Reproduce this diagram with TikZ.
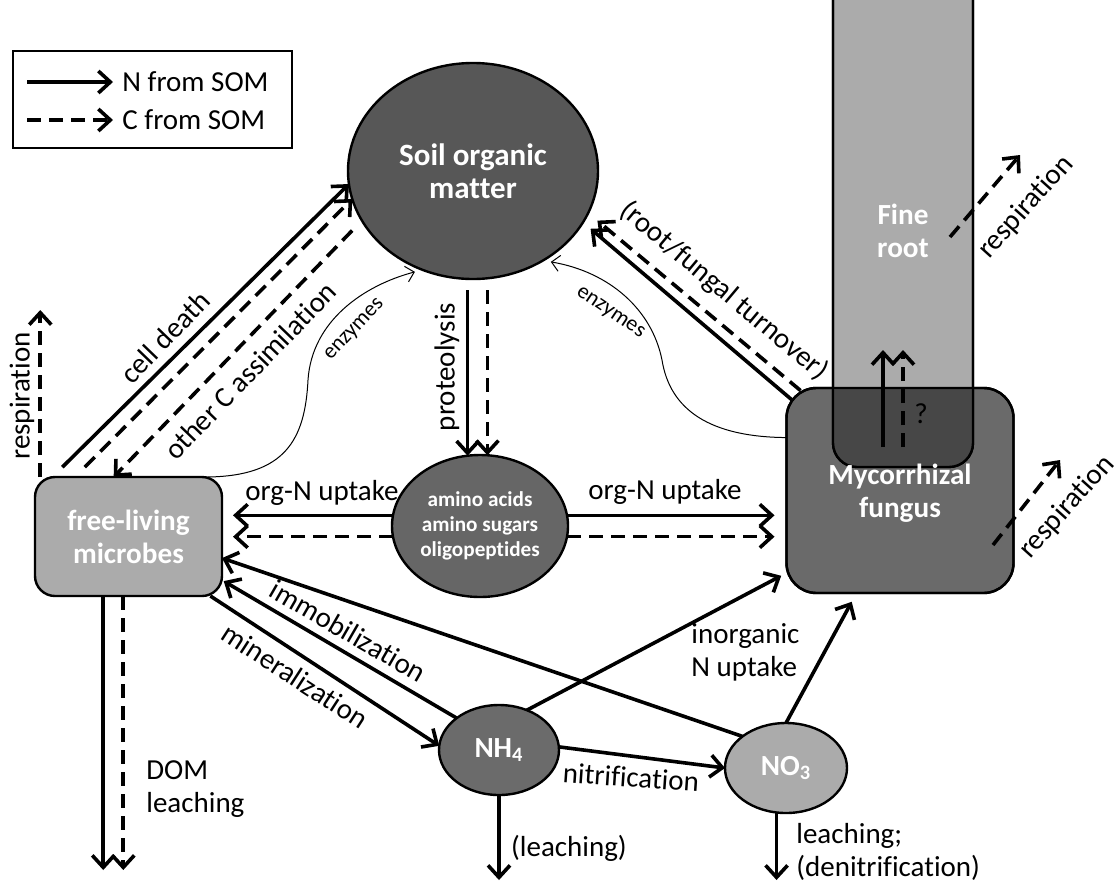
\documentclass[tikz,border=0pt]{standalone}
\usepackage{fontspec}
\setmainfont{Carlito}[Ligatures=NoCommon]
\usetikzlibrary{arrows.meta,shapes.geometric}
\definecolor{somgray}{HTML}{575757}
\definecolor{poolgray}{HTML}{666666}
\definecolor{ammgray}{HTML}{6B6B6B}
\definecolor{lightgray}{HTML}{ABABAB}
\definecolor{fungusgray}{HTML}{6A6A6A}
\definecolor{overlapgray}{HTML}{474747}
\begin{document}
\begin{tikzpicture}
[x=0.5pt,y=-0.5pt,
  pooldecorate/.style={shape=ellipse,draw,line width=1.2pt,inner sep=0pt,outer sep=0pt,
    text=white,align=center,font=\bfseries\fontsize{14.6}{16.5}\selectfont},%
  boxdecorate/.style={shape=rectangle,draw,line width=1.2pt,inner sep=0pt,outer sep=0pt,
    text=white,align=center,font=\bfseries\fontsize{14.6}{16.5}\selectfont},%
  nflow/.style={line width=1.8pt,-{Straight Barb[length=6pt,width=11pt]}},%
  cflow/.style={nflow,dash pattern=on 7pt off 4pt},%
  enzflow/.style={line width=0.5pt,-{Straight Barb[length=4pt,width=8pt]}},%
  flowlabel/.style={font=\fontsize{14.5}{16.5}\selectfont,inner sep=0pt,align=left},%
  smalllabel/.style={font=\fontsize{11}{13}\selectfont,inner sep=0pt}]
\useasboundingbox (0,0) rectangle (1118,884);
%% legend
\node[draw,line width=1pt,minimum width=139.5pt,minimum height=48.5pt,inner sep=0pt] (legend) at (152.5,99.5) {};
\coordinate (legNa) at (27,82); \coordinate (legNb) at (113,82);
\coordinate (legCa) at (27,120); \coordinate (legCb) at (113,120);
\draw[nflow] (legNa) -- (legNb);
\draw[cflow] (legCa) -- (legCb);
\node[flowlabel,anchor=west] (legNtext) at (122,82) {N from SOM};
\node[flowlabel,anchor=west] (legCtext) at (122,120) {C from SOM};
%% pools
\node[pooldecorate,fill=somgray,minimum width=125pt,minimum height=108pt,
  font=\bfseries\fontsize{15.5}{16.5}\selectfont] (som) at (473,171) {Soil organic\\matter};
\node[pooldecorate,fill=poolgray,minimum width=88pt,minimum height=71pt,
  font=\bfseries\fontsize{10.6}{12.5}\selectfont] (amino) at (480,526) {amino acids\\amino sugars\\oligopeptides};
\node[pooldecorate,fill=ammgray,minimum width=60pt,minimum height=45pt] (nhfour) at (499,750) {NH\textsubscript{4}};
\node[pooldecorate,fill=lightgray,minimum width=61pt,minimum height=45pt] (nothree) at (786,768) {NO\textsubscript{3}};
\node[boxdecorate,fill=lightgray,rounded corners=10pt,minimum width=93.5pt,minimum height=59.5pt] (microbes) at (128.5,536.5) {free-living\\microbes};
\node[boxdecorate,fill=fungusgray,rounded corners=15pt,minimum width=113.5pt,minimum height=102.5pt] (fungus) at (900,490.5) {};
\node[boxdecorate,fill=lightgray,rounded corners=12pt,minimum width=70pt,minimum height=263.5pt] (root) at (903,203.5) {};
%% root inside the fungus
\begin{scope}
  \clip[rounded corners=15pt] (fungus.north west) rectangle (fungus.south east);
  \fill[overlapgray,rounded corners=12pt] (root.north west) rectangle (root.south east);
\end{scope}
\draw[line width=1.2pt,rounded corners=12pt] (root.north west) rectangle (root.south east);
\draw[line width=1.2pt,rounded corners=15pt] (fungus.north west) rectangle (fungus.south east);
\node[boxdecorate,draw=none] (roottext) at (903,231) {Fine\\root};
\node[boxdecorate,draw=none] (fungustext) at (900,493) {Mycorrhizal\\fungus};
%% SOM and microbes
\draw[nflow,shorten <=7pt] (microbes.142) -- (som.186);
\draw[cflow,shorten <=7pt] (microbes.132) -- (som.193);
\draw[cflow,shorten <=7pt] (som.204) -- (microbes.104);
\draw[enzflow,shorten >=4pt] (microbes.37) .. controls (285,476) and (305,440) .. (308,380)
  .. controls (312,320) and (365,285) .. (som.243);
%% proteolysis
\draw[nflow,shorten <=5.5pt] (som.south -| amino.100) -- (amino.100);
\draw[cflow,shorten <=5.5pt] (som.south -| amino.84) -- (amino.84);
%% org-N uptake
\draw[nflow,shorten >=5.5pt] (amino.173) -- (amino.173 -| microbes.east);
\draw[cflow,shorten >=5.5pt] (amino.187) -- (amino.187 -| microbes.east);
\draw[nflow,shorten >=6pt] (amino.7) -- (amino.7 -| fungus.west);
\draw[cflow,shorten >=6pt] (amino.353) -- (amino.353 -| fungus.west);
%% fungus and SOM
\draw[nflow,shorten <=-4pt,shorten >=5pt] (fungus.140) -- (som.335);
\draw[cflow,shorten <=-2pt,shorten >=6pt] (fungus.135) -- (som.340);
\draw[enzflow,shorten >=4pt] (fungus.155) .. controls (710,437) and (670,410) .. (662,360)
  .. controls (652,310) and (610,272) .. (som.308);
%% fungus to root
\coordinate (upNa) at (883,447); \coordinate (upNb) at (883,350);
\coordinate (upCa) at (903,447); \coordinate (upCb) at (903,350);
\draw[nflow] (upNa) -- (upNb);
\draw[cflow] (upCa) -- (upCb);
%% inorganic N
\draw[nflow,shorten >=1pt] (nhfour.143) -- (microbes.335);
\draw[nflow] (nothree.144) -- (microbes.347);
\draw[nflow] (microbes.324) -- (nhfour.176);
\draw[nflow,shorten >=3pt] (nhfour.55) -- (fungus.216);
\draw[nflow,shorten >=5pt] (nothree.north) -- (fungus.247);
\draw[nflow] (nhfour.3) -- (nothree.180);
%% losses
\coordinate (drain) at (0,880);
\coordinate (domdrain) at (0,870); \coordinate (micresp) at (0,310);
\coordinate (rootrespA) at (950,237); \coordinate (rootrespB) at (1020,155);
\coordinate (fungrespA) at (993,545); \coordinate (fungrespB) at (1060,460);
\draw[nflow] (nhfour.south) -- (nhfour.south |- drain);
\draw[nflow] (nothree.258) -- (nothree.258 |- drain);
\draw[nflow] (microbes.247) -- (microbes.247 |- domdrain);
\draw[cflow] (microbes.265) -- (microbes.265 |- domdrain);
\draw[cflow] (microbes.146) -- (microbes.146 |- micresp);
\draw[cflow] (rootrespA) -- (rootrespB);
\draw[cflow] (fungrespA) -- (fungrespB);
%% labels
\node[flowlabel,rotate=46] (lcelldeath) at (165,337) {cell death};
\node[flowlabel,rotate=46] (lotherc) at (250,371) {other C assimilation};
\node[flowlabel,rotate=90] (lproteo) at (447,367) {proteolysis};
\node[smalllabel,rotate=47] (lenzl) at (355,330) {enzymes};
\node[smalllabel,rotate=-34] (lenzr) at (610,313) {enzymes};
\node[flowlabel,rotate=-40] (lturn) at (724,291) {(root/fungal turnover)};
\node[flowlabel] (luptl) at (322,493) {org-N uptake};
\node[flowlabel] (luptr) at (665,492) {org-N uptake};
\node[flowlabel,rotate=90] (lrespm) at (22,396) {respiration};
\node[flowlabel,rotate=48] (lrespr) at (1026,207) {respiration};
\node[flowlabel,rotate=48] (lrespf) at (1067,507) {respiration};
\node[flowlabel,rotate=-30] (limmob) at (348,631) {immobilization};
\node[flowlabel,rotate=-33] (lminer) at (295,676) {mineralization};
\node[flowlabel,anchor=west] (linorg) at (691,652) {inorganic\\N uptake};
\node[flowlabel,rotate=-4] (lnitri) at (631,777) {nitrification};
\node[flowlabel] (lleachnh) at (569,848) {(leaching)};
\node[flowlabel,anchor=west] (lleachno) at (796,852) {leaching;\\(denitrification)};
\node[flowlabel,anchor=west] (ldom) at (146,789) {DOM\\leaching};
\node[flowlabel] (lquery) at (921,414) {?};
\end{tikzpicture}
\end{document}
